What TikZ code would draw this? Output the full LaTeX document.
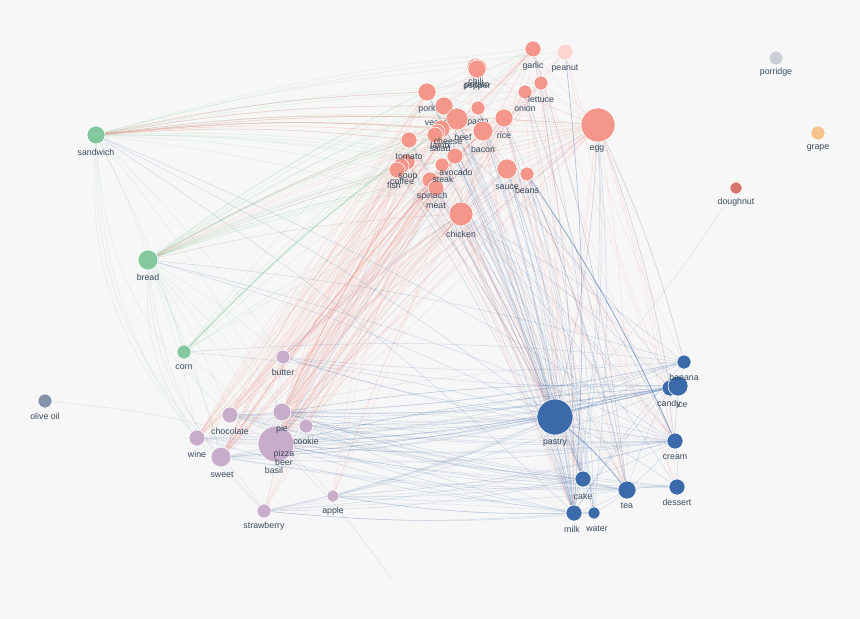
\documentclass[tikz,border=0pt]{standalone}
\usepackage{fontspec}
\setmainfont{Liberation Sans}
\usetikzlibrary{positioning}
\pgfdeclarelayer{background}
\pgfsetlayers{background,main}

\definecolor{bgcol}{HTML}{F7F7F7}
\definecolor{salmon}{HTML}{F4968A}
\definecolor{peanutpink}{HTML}{FCD5CE}
\definecolor{mint}{HTML}{84C99E}
\definecolor{lilac}{HTML}{C8ADCA}
\definecolor{steel}{HTML}{3A6AAA}
\definecolor{slate}{HTML}{8593AA}
\definecolor{lightgrey}{HTML}{CACED5}
\definecolor{apricot}{HTML}{F6C28E}
\definecolor{brick}{HTML}{D8736E}
\definecolor{labeltext}{HTML}{3A4A5C}

\tikzset{
  food/.style={circle, fill=#1, draw=white, line width=0.5pt, inner sep=0pt},
  rad/.style={minimum size=#1*0.06cm},
  lbl/.style={font=\fontsize{7.5}{8}\selectfont, text=labeltext, inner sep=0pt},
  link/.style={line width=0.45pt, draw opacity=0.2, bend left=5},
  gedge/.style={link, draw=mint},
  redge/.style={link, draw=salmon},
  bedge/.style={link, draw=steel},
  pedge/.style={link, draw=lilac!70!steel},
  grayedge/.style={link, draw=slate!70, draw opacity=0.3},
  strong/.style={draw opacity=0.5, line width=0.8pt},
}

\begin{document}
\begin{tikzpicture}[x=0.03cm, y=-0.03cm]
% green group
\node[food=mint, rad=9] (sandwich) at (96,135) {};
\node[food=mint, rad=10] (bread) at (148,260) {};
\node[food=mint, rad=7] (corn) at (184,352) {};

% loners
\node[food=slate, rad=7] (oliveoil) at (45,401) {};
\node[food=lightgrey, rad=7] (porridge) at (776,58) {};
\node[food=apricot, rad=7] (grape) at (818,133) {};
\node[food=brick, rad=6] (doughnut) at (736,188) {};

% savoury group
\node[food=salmon, rad=8] (garlic) at (533,49) {};
\node[food=peanutpink, rad=8] (peanut) at (565,52) {};
\node[food=salmon, rad=9] (chili) at (476,67) {};
\node[food=salmon, rad=9] (potato) at (478,68) {};
\node[food=salmon, rad=9] (pepper) at (477,69) {};
\node[food=salmon, rad=7] (lettuce) at (541,83) {};
\node[food=salmon, rad=7] (onion) at (525,92) {};
\node[food=salmon, rad=9] (pork) at (427,92) {};
\node[food=salmon, rad=9] (veggie) at (444,106) {};
\node[lbl] (veggie-l) at (444,123) {vegetable};
\node[food=salmon, rad=7] (pasta) at (478,108) {};
\node[lbl] (pasta-l) at (478,123) {pasta};
\node[food=salmon, rad=11] (beef) at (457,119) {};
\node[food=salmon, rad=9] (rice) at (504,118) {};
\node[food=salmon, rad=17] (egg) at (598,125) {};
\node[food=salmon, rad=9] (cheese) at (441,129) {};
\node[food=salmon, rad=8] (lamb) at (437,132) {};
\node[food=salmon, rad=8] (salad) at (435,135) {};
\node[food=salmon, rad=10] (bacon) at (483,131) {};
\node[food=salmon, rad=8] (tomato) at (409,140) {};
\node[food=salmon, rad=8] (avocado) at (455,156) {};
\node[food=salmon, rad=8] (soup) at (407,162) {};
\node[food=salmon, rad=8] (coffee) at (401,166) {};
\node[food=salmon, rad=8] (fish) at (397,170) {};
\node[food=salmon, rad=7] (steak) at (442,165) {};
\node[food=salmon, rad=8] (spinach) at (430,180) {};
\node[food=salmon, rad=8] (meat) at (436,188) {};
\node[food=salmon, rad=10] (sauce) at (507,169) {};
\node[food=salmon, rad=7] (beans) at (527,174) {};
\node[food=salmon, rad=12] (chicken) at (461,214) {};

% sweet group
\node[food=lilac, rad=7] (butter) at (283,357) {};
\node[food=lilac, rad=8] (chocolate) at (230,415) {};
\node[food=lilac, rad=9] (pie) at (282,412) {};
\node[food=lilac, rad=7] (cookie) at (306,426) {};
\node[food=lilac, rad=8] (wine) at (197,438) {};
\node[food=lilac, rad=6] (beer) at (283,448) {};
\node[food=lilac, rad=6] (basil) at (275,455) {};
\node[food=lilac, rad=18] (pizza) at (276,444) {};
\node[food=lilac, rad=10] (sweet) at (221,457) {};
\node[food=lilac, rad=7] (strawberry) at (264,511) {};
\node[food=lilac, rad=6] (apple) at (333,496) {};

% dessert group
\node[food=steel, rad=7] (banana) at (684,362) {};
\node[food=steel, rad=8] (candy) at (670,388) {};
\node[food=steel, rad=10] (ice) at (678,386) {};
\node[food=steel, rad=18] (pastry) at (555,417) {};
\node[food=steel, rad=8] (cream) at (675,441) {};
\node[food=steel, rad=8] (cake) at (583,479) {};
\node[food=steel, rad=9] (tea) at (627,490) {};
\node[food=steel, rad=8] (dessert) at (677,487) {};
\node[food=steel, rad=8] (milk) at (574,513) {};
\node[food=steel, rad=6] (water) at (594,513) {};

\coordinate (offscreen) at (392,580);

% labels
\node[lbl] (sandwich-l) at (96,152) {sandwich};
\node[lbl] (bread-l) at (148,277) {bread};
\node[lbl] (corn-l) at (184,367) {corn};
\node[lbl] (oliveoil-l) at (45,416) {olive oil};
\node[lbl] (porridge-l) at (776,72) {porridge};
\node[lbl] (grape-l) at (818,148) {grape};
\node[lbl] (doughnut-l) at (736,202) {doughnut};
\node[lbl] (garlic-l) at (533,66) {garlic};
\node[lbl] (peanut-l) at (565,69) {peanut};
\node[lbl] (chili-l) at (476,81) {chili};
\node[lbl] (potato-l) at (477,86) {potato};
\node[lbl] (pepper-l) at (477,87) {pepper};
\node[lbl] (lettuce-l) at (541,99) {lettuce};
\node[lbl] (onion-l) at (525,108) {onion};
\node[lbl] (pork-l) at (427,109) {pork};
\node[lbl] (rice-l) at (504,135) {rice};
\node[lbl] (egg-l) at (597,149) {egg};
\node[lbl] (beef-l) at (463,137) {beef};
\node[lbl] (cheese-l) at (448,141) {cheese};
\node[lbl] (lamb-l) at (440,145) {lamb};
\node[lbl] (salad-l) at (440,148) {salad};
\node[lbl] (bacon-l) at (483,149) {bacon};
\node[lbl] (tomato-l) at (409,157) {tomato};
\node[lbl] (avocado-l) at (456,172) {avocado};
\node[lbl] (soup-l) at (408,177) {soup};
\node[lbl] (coffee-l) at (402,181) {coffee};
\node[lbl] (fish-l) at (394,185) {fish};
\node[lbl] (steak-l) at (443,179) {steak};
\node[lbl] (spinach-l) at (432,196) {spinach};
\node[lbl] (meat-l) at (436,206) {meat};
\node[lbl] (sauce-l) at (507,187) {sauce};
\node[lbl] (beans-l) at (527,190) {beans};
\node[lbl] (chicken-l) at (461,234) {chicken};
\node[lbl] (butter-l) at (283,372) {butter};
\node[lbl] (chocolate-l) at (230,431) {chocolate};
\node[lbl] (pie-l) at (282,429) {pie};
\node[lbl] (cookie-l) at (306,441) {cookie};
\node[lbl] (wine-l) at (197,454) {wine};
\node[lbl] (pizza-l) at (284,454) {pizza};
\node[lbl] (beer-l) at (284,462) {beer};
\node[lbl] (basil-l) at (274,470) {basil};
\node[lbl] (sweet-l) at (222,475) {sweet};
\node[lbl] (strawberry-l) at (264,526) {strawberry};
\node[lbl] (apple-l) at (333,511) {apple};
\node[lbl] (banana-l) at (684,377) {banana};
\node[lbl] (candy-l) at (669,404) {candy};
\node[lbl] (ice-l) at (682,404) {ice};
\node[lbl] (pastry-l) at (555,443) {pastry};
\node[lbl] (cream-l) at (675,457) {cream};
\node[lbl] (cake-l) at (583,496) {cake};
\node[lbl] (tea-l) at (627,506) {tea};
\node[lbl] (dessert-l) at (677,502) {dessert};
\node[lbl] (milk-l) at (572,529) {milk};
\node[lbl] (water-l) at (597,529) {water};

\begin{pgfonlayer}{background}
\fill[bgcol] (0,0) rectangle (860,619);
% green links
\draw[gedge] (sandwich) edge (garlic) edge (peanut) edge (chili) edge (pork) edge (lettuce) edge (onion) edge (veggie) edge (beef) edge (rice) edge (egg) edge (cheese) edge (bacon) edge (tomato) edge (soup) edge (avocado) edge (steak) edge (spinach) edge (sauce) edge (chicken) edge (bread) edge (corn) edge (pie) edge (butter);
\draw[gedge] (bread) edge (garlic) edge (chili) edge (pork) edge (veggie) edge (beef) edge (cheese) edge (salad) edge (tomato) edge (coffee) edge (steak) edge (meat) edge (chicken) edge (sauce) edge (egg) edge (pizza) edge (sweet) edge (wine) edge (chocolate) edge (butter) edge (pie) edge (corn) edge (peanut) edge (onion);
\draw[gedge] (corn) edge (chicken) edge (beef) edge (pork) edge (tomato) edge (bacon) edge (pizza) edge (sweet) edge (egg) edge (garlic);
\draw[gedge, strong] (corn) edge (cheese);
\draw[gedge, draw opacity=0.4] (bread) edge (avocado) edge (spinach);
\draw[gedge, bend right=22] (sandwich) edge (wine) edge (sweet) edge (strawberry) edge (chocolate);
\draw[pedge, bend right=18] (bread) edge (strawberry) edge (wine) edge (sweet);

% savoury links
\draw[redge, draw opacity=0.4] (sandwich) edge (pork) edge (veggie) edge (beef) edge (cheese) edge (tomato) edge (bacon) edge (salad) edge (egg);
\draw[redge] (bread) edge (chicken) edge (beef) edge (bacon) edge (egg) edge (rice) edge (tomato) edge (fish);
\draw[redge] (egg) edge (garlic) edge (bacon) edge (rice) edge (beef) edge (cheese) edge (sauce) edge (chicken) edge (lettuce) edge (onion) edge (pork) edge (tomato) edge (pepper) edge (spinach) edge (dessert) edge (cream) edge (tea);
\draw[redge] (egg) edge (pizza) edge (sweet) edge (butter) edge (pie) edge (pastry) edge (banana) edge (candy) edge (steak) edge (avocado) edge (soup);
\draw[redge] (garlic) edge (pork) edge (tomato) edge (onion) edge (chicken) edge (beef) edge (soup) edge (fish) edge (pizza) edge (pastry) edge (milk) edge (tea);
\draw[redge] (chicken) edge (rice) edge (pork) edge (sauce) edge (onion) edge (pepper) edge (tomato) edge (fish) edge (lettuce) edge (garlic);
\draw[redge] (bacon) edge (pork) edge (tomato) edge (lettuce) edge (chili) edge (spinach) edge (steak);
\draw[redge] (pizza) edge (pepper) edge (garlic) edge (cheese) edge (beef) edge (bacon) edge (tomato) edge (chicken) edge (onion) edge (sauce) edge (pork) edge (veggie) edge (spinach) edge (steak) edge (meat) edge (egg) edge (avocado) edge (soup);
\draw[redge] (sweet) edge (potato) edge (pork) edge (chicken) edge (bacon) edge (soup) edge (fish) edge (tomato) edge (rice) edge (beans) edge (garlic) edge (cheese);
\draw[redge] (wine) edge (cheese) edge (chicken) edge (beef) edge (steak) edge (fish) edge (pasta) edge (garlic) edge (tomato);
\draw[redge] (chocolate) edge (peanut) edge (egg) edge (bacon) edge (coffee) edge (avocado) edge (chili) edge (pork);
\draw[redge] (pie) edge (chicken) edge (egg) edge (pork) edge (meat) edge (cheese) edge (beef) edge (tomato) edge (lettuce);
\draw[redge, strong] (pie) edge (beef) (sweet) edge (bacon);
\draw[redge] (butter) edge (garlic) edge (egg) edge (bacon) edge (chicken) edge (beef) edge (rice) edge (pork);
\draw[redge] (cookie) edge (egg) edge (peanut) edge (chicken) edge (pasta);
\draw[redge] (strawberry) edge (chicken) edge (pork) edge (spinach);
\draw[redge] (apple) edge (pork) edge (chicken) edge (cheese) edge (onion);
\draw[redge] (meat) edge (pizza) edge (sweet) edge (wine) edge (pie) edge (chocolate) edge (butter) edge (cookie) edge (pastry) edge (cake);
\draw[redge] (steak) edge (wine) edge (sweet) edge (chocolate) edge (strawberry) edge (tea);
\draw[redge] (avocado) edge (pizza) edge (sweet) edge (pie) edge (apple) edge (cream);
\draw[redge] (spinach) edge (pizza) edge (wine) edge (pie) edge (cookie) edge (milk);
\draw[redge] (soup) edge (pizza) edge (wine) edge (chocolate) edge (pastry) edge (tea);
\draw[redge] (fish) edge (pizza) edge (wine) edge (strawberry) edge (pastry);
\draw[redge] (coffee) edge (sweet) edge (pie) edge (milk) edge (cake) edge (cream);
\draw[redge] (onion) edge (pizza) edge (pastry) edge (tea) edge (milk);
\draw[redge] (lettuce) edge (pizza) edge (sweet) edge (pastry) edge (cream);
\draw[redge] (rice) edge (pizza) edge (wine) edge (pastry) edge (cake);
\draw[redge] (beans) edge (pizza) edge (pastry) edge (tea) edge (dessert);
\draw[redge] (sauce) edge (pizza) edge (wine) edge (tea) edge (cream) edge (dessert);
\draw[redge] (pasta) edge (pizza) edge (sweet) edge (pastry);
\draw[redge] (pastry) edge (chicken) edge (beef) edge (cheese) edge (bacon) edge (pork) edge (sauce) edge (tomato) edge (steak);
\draw[redge] (cake) edge (egg) edge (chicken) edge (bacon) edge (beef) edge (onion);
\draw[redge] (tea) edge (chicken) edge (rice) edge (lettuce);
\draw[redge] (cream) edge (chicken) edge (cheese) edge (bacon) edge (garlic);
\draw[redge] (banana) edge (peanut) edge (chicken);
\draw[redge] (milk) edge (egg) edge (cheese) edge (chicken) edge (pepper);
\draw[redge] (candy) edge (peanut) edge (bacon);

% dessert links
\draw[bedge, draw opacity=0.45] (peanut) edge (milk);
\draw[bedge] (egg) edge (cake) edge (milk) edge (pastry) edge (banana) edge (candy) edge (water);
\draw[bedge] (sauce) edge (milk) edge (water) edge (cake) edge (pastry);
\draw[bedge] (beans) edge (water) edge (tea) edge (cake);
\draw[bedge, strong] (beans) edge (cream);
\draw[bedge] (bacon) edge (pastry) edge (milk) edge (cream);
\draw[bedge] (chicken) edge (pastry) edge (cake) edge (tea) edge (cream) edge (milk) edge (banana) edge (candy) edge (dessert);
\draw[bedge] (pork) edge (milk) edge (pastry) edge (cake);
\draw[bedge] (rice) edge (milk) edge (tea) edge (water);
\draw[bedge] (veggie) edge (pastry) edge (cake);
\draw[bedge] (cheese) edge (pastry) edge (milk) edge (ice);
\draw[bedge] (garlic) edge (milk) edge (tea);
\draw[bedge] (onion) edge (tea) edge (cake);
\draw[bedge] (lettuce) edge (water);
\draw[bedge] (beef) edge (pastry) edge (milk) edge (cake);
\draw[bedge] (tomato) edge (pastry) edge (milk);
\draw[bedge] (avocado) edge (milk) edge (pastry);
\draw[bedge] (steak) edge (cake) edge (pastry);
\draw[bedge] (pasta) edge (milk) edge (cake);
\draw[bedge] (soup) edge (milk) edge (pastry);
\draw[bedge] (fish) edge (milk) edge (pastry);
\draw[bedge] (meat) edge (pastry) edge (milk);
\draw[bedge] (bread) edge (banana) edge (pastry) edge (cream);
\draw[bedge] (corn) edge (banana) edge (pastry);
\draw[bedge] (sandwich) edge (pastry) edge (cream) edge (milk);
\draw[bedge] (pastry) edge (pizza) edge (pie) edge (chocolate) edge (cookie) edge (sweet) edge (wine) edge (butter) edge (apple) edge (strawberry) edge (basil);
\draw[bedge] (cream) edge (pie) edge (pizza) edge (chocolate) edge (cookie) edge (sweet) edge (butter) edge (strawberry) edge (apple) edge (wine);
\draw[bedge] (banana) edge (pie) edge (pizza) edge (butter) edge (cookie) edge (apple) edge (chocolate);
\draw[bedge] (candy) edge (pizza) edge (pie) edge (chocolate) edge (cookie) edge (sweet) edge (wine);
\draw[bedge] (ice) edge (pizza) edge (pie) edge (butter) edge (sweet) edge (strawberry);
\draw[bedge] (tea) edge (pizza) edge (sweet) edge (cookie) edge (pie) edge (apple);
\draw[bedge] (cake) edge (pizza) edge (chocolate) edge (pie) edge (strawberry) edge (apple);
\draw[bedge] (milk) edge (pizza) edge (strawberry) edge (apple) edge (chocolate) edge (cookie);
\draw[bedge] (water) edge (apple) edge (strawberry) edge (wine);
\draw[bedge] (dessert) edge (pizza) edge (pie) edge (sweet) edge (chocolate);
\draw[bedge, strong] (pastry) edge (tea);
\draw[bedge, draw opacity=0.35] (pie) edge (ice) (pizza) edge (candy);
\draw[bedge] (pastry) edge (banana) edge (candy) edge (cream) edge (cake) edge (milk) edge (water) edge (dessert) edge (ice);
\draw[bedge] (cream) edge (dessert) edge (banana) edge (candy) edge (tea) edge (cake);
\draw[bedge] (tea) edge (cake) edge (milk) edge (water) edge (candy) edge (dessert);
\draw[bedge] (milk) edge (water) edge (cake) edge (candy) edge (banana);

% sweet links
\draw[pedge] (pizza) edge (sweet) edge (wine) edge (chocolate) edge (pie) edge (cookie) edge (butter) edge (strawberry) edge (apple);
\draw[pedge] (sweet) edge (wine) edge (chocolate) edge (pie) edge (strawberry);
\draw[pedge] (pie) edge (butter) edge (chocolate) edge (cookie) edge (sauce) edge (rice) edge (garlic);
\draw[pedge] (pizza) edge (peanut) edge (lettuce) edge (rice) edge (sauce) edge (beans) edge (egg);
\draw[pedge] (butter) edge (chicken) edge (egg) edge (sauce);
\draw[pedge] (sweet) edge (pastry) edge (tea) edge (cream);
\draw[pedge] (wine) edge (cream) edge (tea);
\draw[pedge] (chocolate) edge (cream) edge (banana) edge (milk);
\draw[pedge] (strawberry) edge (milk) edge (cake) edge (tea);

% stray links
\draw[grayedge] (doughnut) edge (pastry);
\draw[grayedge] (oliveoil) edge (pizza);
\draw[grayedge] (pizza) edge (offscreen);
\end{pgfonlayer}
\end{tikzpicture}
\end{document}
